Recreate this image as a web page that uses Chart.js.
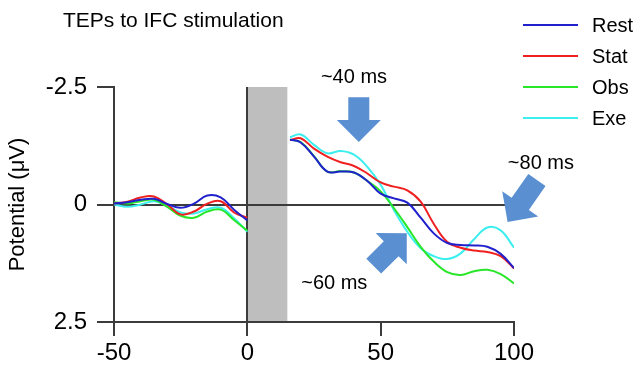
<!DOCTYPE html>
<html><head><meta charset="utf-8">
<script src="https://cdn.jsdelivr.net/npm/chart.js@4.4.1/dist/chart.umd.min.js"></script>
<style>html,body{margin:0;padding:0;background:#fff;}canvas{display:block;}</style>
</head><body>
<canvas id="c" width="640" height="378"></canvas>
<script>
// ---- data ----
const seriesNames = ['Rest', 'Stat', 'Obs', 'Exe'];
const timesMs = [-50,-45,-40,-35,-30,-25,-20,-15,-10,-5,0, 7.5, 16,20,25,30,35,40,45,50,55,60,65,70,75,80,85,90,95,100];
const rest = [-0.02,-0.05,-0.10,-0.12,-0.01,0.07,-0.02,-0.19,-0.15,0.11,0.34, null,
  -1.38,-1.32,-1.02,-0.70,-0.70,-0.68,-0.50,-0.23,-0.13,-0.04,0.28,0.62,0.82,0.86,0.87,0.90,1.05,1.35];
const stat = [-0.02,-0.06,-0.15,-0.17,0.00,0.21,0.15,-0.02,-0.07,0.17,0.28, null,
  -1.37,-1.41,-1.19,-1.02,-0.90,-0.82,-0.66,-0.47,-0.38,-0.30,-0.06,0.42,0.80,0.92,0.98,1.01,1.10,1.36];
const obs = [-0.05,-0.02,-0.07,-0.10,0.05,0.24,0.28,0.15,0.11,0.33,0.56, null,
  -1.38,-1.33,-1.03,-0.70,-0.71,-0.68,-0.50,-0.28,0.08,0.48,0.90,1.22,1.44,1.50,1.42,1.39,1.48,1.68];
const exe = [0.00,0.05,0.00,-0.07,0.03,0.17,0.19,0.10,0.07,0.29,0.58, null,
  -1.43,-1.49,-1.27,-1.09,-1.14,-1.06,-0.80,-0.42,0.12,0.58,0.93,1.10,1.16,1.04,0.74,0.49,0.55,0.92];
const yTicks = [-2.5, 0, 2.5];
const xTicks = [-50, 0, 50, 100];
const stimWindow = [0, 15];
const arrowNotes = [
  { text: '~40 ms', label: [27.6, -2.71], tail: [41.8, -2.28], tip: [41.8, -1.33] },
  { text: '~60 ms', label: [20.2, 1.69], tail: [47.4, 1.31], tip: [59.8, 0.61] },
  { text: '~80 ms', label: [97.7, -0.88], tail: [108.6, -0.52], tip: [97.6, 0.37] }
];

// ---- styles ----
const colors = ['#2020cc', '#f02020', '#28e628', '#3ceeee'];
const FONT = "'Liberation Sans', Arial, sans-serif";
const AXIS = '#3c3c3c';

const mk = arr => timesMs.map((t, i) => ({ x: t, y: arr[i] }));
const seriesValues = [rest, stat, obs, exe];

const overlay = {
  id: 'overlay',
  beforeDraw(chart) {
    const { ctx, chartArea: a, scales: { x } } = chart;
    ctx.save();
    ctx.fillStyle = '#bebebe';
    const x0 = x.getPixelForValue(stimWindow[0]), x1 = x.getPixelForValue(stimWindow[1]);
    ctx.fillRect(x0, a.top, x1 - x0, a.bottom - a.top);
    ctx.restore();
  },
  afterDraw(chart) {
    const { ctx, scales: { x, y } } = chart;
    ctx.save();
    // title
    ctx.fillStyle = '#000';
    ctx.font = '21px ' + FONT;
    ctx.textBaseline = 'middle';
    ctx.textAlign = 'left';
    ctx.fillText('TEPs to IFC stimulation', 63, 21);
    // legend
    ctx.font = '20px ' + FONT;
    chart.data.datasets.forEach((ds, i) => {
      const ly = 25 + i * 31;
      ctx.strokeStyle = ds.borderColor;
      ctx.lineWidth = 2;
      ctx.beginPath(); ctx.moveTo(523, ly); ctx.lineTo(578, ly); ctx.stroke();
      ctx.fillStyle = '#000';
      ctx.fillText(ds.label, 592, ly + 1);
    });
    // arrows
    const sw = 21, hw = 44, hl = 22;
    arrowNotes.forEach(n => {
      const T = { x: x.getPixelForValue(n.tail[0]), y: y.getPixelForValue(n.tail[1]) };
      const P = { x: x.getPixelForValue(n.tip[0]), y: y.getPixelForValue(n.tip[1]) };
      const L = Math.hypot(P.x - T.x, P.y - T.y);
      const d = { x: (P.x - T.x) / L, y: (P.y - T.y) / L };
      const nn = { x: -d.y, y: d.x };
      const B = { x: P.x - d.x * hl, y: P.y - d.y * hl };
      const pts = [
        [T.x + nn.x * sw / 2, T.y + nn.y * sw / 2],
        [B.x + nn.x * sw / 2, B.y + nn.y * sw / 2],
        [B.x + nn.x * hw / 2, B.y + nn.y * hw / 2],
        [P.x, P.y],
        [B.x - nn.x * hw / 2, B.y - nn.y * hw / 2],
        [B.x - nn.x * sw / 2, B.y - nn.y * sw / 2],
        [T.x - nn.x * sw / 2, T.y - nn.y * sw / 2]
      ];
      ctx.fillStyle = '#5a8fd2';
      ctx.beginPath();
      pts.forEach((p, k) => k ? ctx.lineTo(p[0], p[1]) : ctx.moveTo(p[0], p[1]));
      ctx.closePath(); ctx.fill();
      ctx.fillStyle = '#000';
      ctx.font = '20px ' + FONT;
      ctx.fillText(n.text, x.getPixelForValue(n.label[0]), y.getPixelForValue(n.label[1]));
    });
    ctx.restore();
  }
};

new Chart(document.getElementById('c'), {
  type: 'line',
  data: {
    datasets: seriesNames.map((name, i) => ({
      label: name,
      data: mk(seriesValues[i]),
      borderColor: colors[i],
      backgroundColor: colors[i],
      borderWidth: 2,
      pointRadius: 0,
      tension: 0.4,
      fill: false,
      spanGaps: false
    }))
  },
  options: {
    responsive: false,
    devicePixelRatio: 1,
    animation: false,
    layout: { padding: { left: 0, right: 126, top: 87, bottom: 0 } },
    plugins: { legend: { display: false }, tooltip: { enabled: false } },
    scales: {
      x: {
        type: 'linear', min: -50, max: 100,
        afterBuildTicks: s => { s.ticks = xTicks.map(v => ({ value: v })); },
        afterFit: s => { s.height = 56; },
        ticks: { color: '#000', font: { size: 24, family: FONT }, padding: 3, maxRotation: 0 },
        grid: {
          color: c => (c.tick && c.tick.value === 0) ? AXIS : 'rgba(0,0,0,0)',
          tickColor: AXIS, lineWidth: 2, tickLength: 14, drawOnChartArea: true
        },
        border: { display: true, color: AXIS, width: 2 }
      },
      y: {
        type: 'linear', min: -2.5, max: 2.5, reverse: true,
        afterBuildTicks: s => { s.ticks = yTicks.map(v => ({ value: v })); },
        afterFit: s => { s.width = 114; },
        ticks: { color: '#000', font: { size: 24, family: FONT }, padding: 10,
          callback: v => String(v) },
        grid: {
          color: c => (c.tick && c.tick.value === 0) ? AXIS : 'rgba(0,0,0,0)',
          tickColor: AXIS, lineWidth: 2, tickLength: 17, drawOnChartArea: true
        },
        border: { display: true, color: AXIS, width: 2 },
        title: { display: true, text: 'Potential (μV)', color: '#000',
          font: { size: 22, family: FONT }, padding: { top: 5, bottom: 0 } }
      }
    }
  },
  plugins: [overlay]
});
</script>
</body></html>
